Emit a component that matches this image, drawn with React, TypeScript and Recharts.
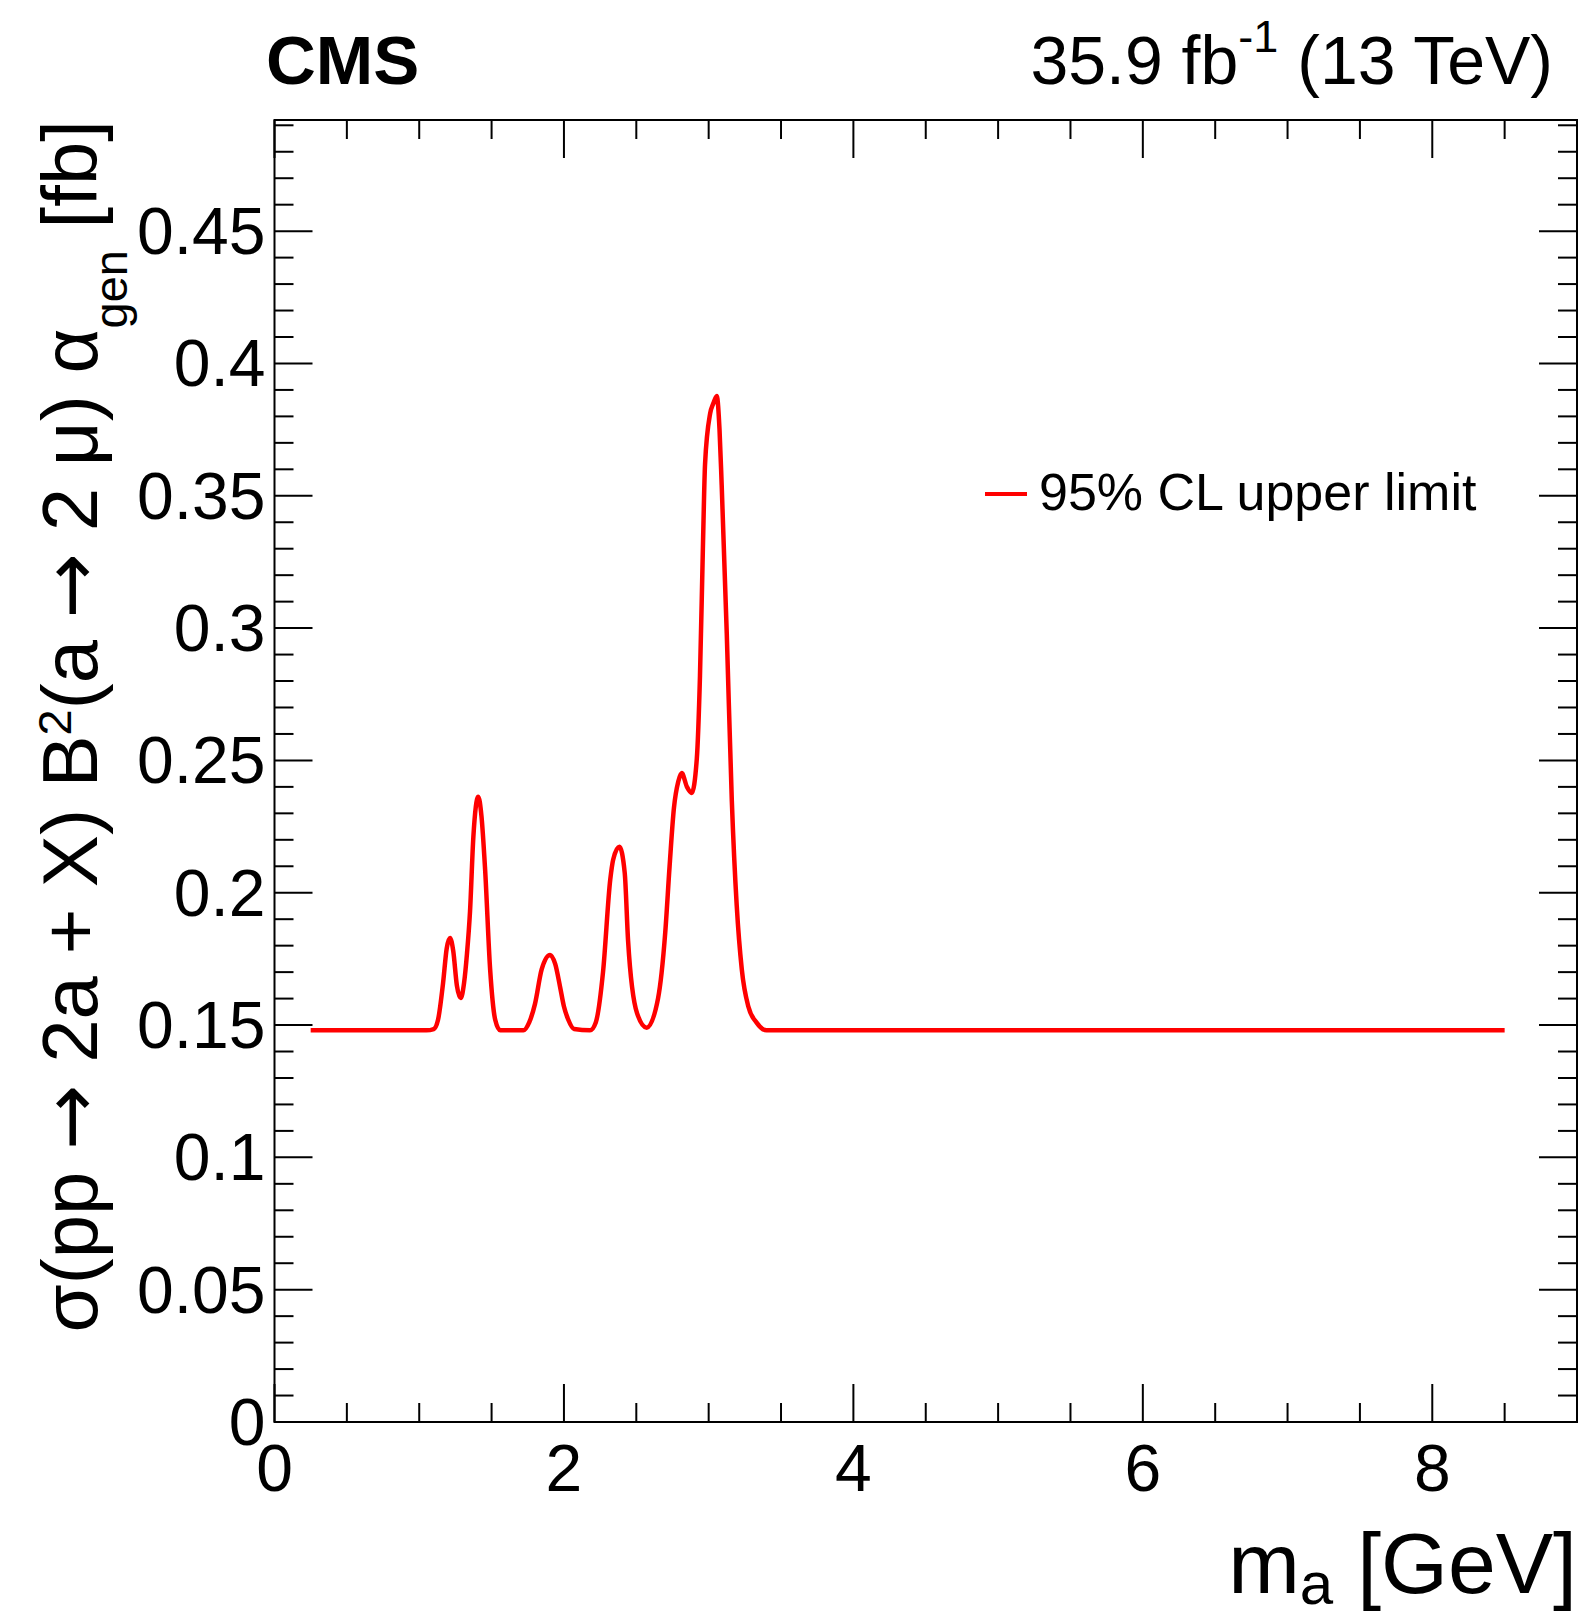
import React from 'react';
import { LineChart, Line, XAxis, YAxis, ReferenceArea, Legend, Customized } from 'recharts';

// ---- data ----
const massGeV = [
  0.25, 1.05, 1.10, 1.13, 1.165, 1.19, 1.213, 1.235, 1.26, 1.287, 1.31, 1.33, 1.351, 1.374, 1.408,
  1.43, 1.455, 1.49, 1.525, 1.56, 1.72, 1.76, 1.80, 1.846, 1.904, 1.94, 1.973, 2.00, 2.03, 2.07,
  2.18, 2.22, 2.27, 2.32, 2.34, 2.383, 2.42, 2.443, 2.505, 2.572, 2.65, 2.70, 2.73, 2.76, 2.79,
  2.814, 2.85, 2.883, 2.918, 2.94, 2.96, 2.975, 3.01, 3.033, 3.056, 3.075, 3.09, 3.125, 3.16,
  3.194, 3.229, 3.274, 3.33, 3.40, 8.50,
];
const upperLimitFb = [
  0.148, 0.148, 0.1485, 0.152, 0.166, 0.179, 0.1829, 0.178, 0.165, 0.1602, 0.166, 0.177, 0.193, 0.221, 0.2363,
  0.229, 0.209, 0.171, 0.152, 0.148, 0.148, 0.151, 0.158, 0.171, 0.1765, 0.173, 0.1645, 0.157, 0.152, 0.1485,
  0.148, 0.151, 0.170, 0.205, 0.2125, 0.2174, 0.2075, 0.182, 0.1545, 0.149, 0.160, 0.185, 0.21, 0.232, 0.242,
  0.2452, 0.240, 0.2377, 0.2506, 0.282, 0.330, 0.362, 0.381, 0.385, 0.3877, 0.375, 0.354, 0.298, 0.2347,
  0.195, 0.171, 0.157, 0.151, 0.148, 0.148,
];

const xTickValues = [0, 0.5, 1, 1.5, 2, 2.5, 3, 3.5, 4, 4.5, 5, 5.5, 6, 6.5, 7, 7.5, 8, 8.5, 9];
const xMajorTicks = [0, 2, 4, 6, 8];
const xTickLabels = ['0', '2', '4', '6', '8'];
const yTickValues = [
  0, 0.01, 0.02, 0.03, 0.04, 0.05, 0.06, 0.07, 0.08, 0.09,
  0.1, 0.11, 0.12, 0.13, 0.14, 0.15, 0.16, 0.17, 0.18, 0.19,
  0.2, 0.21, 0.22, 0.23, 0.24, 0.25, 0.26, 0.27, 0.28, 0.29,
  0.3, 0.31, 0.32, 0.33, 0.34, 0.35, 0.36, 0.37, 0.38, 0.39,
  0.4, 0.41, 0.42, 0.43, 0.44, 0.45, 0.46, 0.47, 0.48, 0.49,
];
const yMajorTicks = [0, 0.05, 0.1, 0.15, 0.2, 0.25, 0.3, 0.35, 0.4, 0.45];
const yTickLabels = ['0', '0.05', '0.1', '0.15', '0.2', '0.25', '0.3', '0.35', '0.4', '0.45'];
const xDomain = [0, 9];
const yDomain = [0, 0.492];
const seriesName = '95% CL upper limit';

const data = massGeV.map((m, i) => ({ m, limit: upperLimitFb[i] }));

// ---- layout ----
const W = 1584;
const H = 1618;
const MARGIN = { top: 120, right: 7, bottom: 136, left: 0 };
const Y_AXIS_W = 274.5;
const X_AXIS_H = 60;
const PLOT_L = MARGIN.left + Y_AXIS_W;
const PLOT_R = W - MARGIN.right;
const PLOT_T = MARGIN.top;
const PLOT_B = H - MARGIN.bottom - X_AXIS_H;
const FONT = '"Liberation Sans", Arial, Helvetica, sans-serif';
const ARROW_FONT = '"DejaVu Sans", sans-serif';
const TICK_FS = 66;
const MAJOR = 38;
const MINOR = 19;

const findIdx = (arr: number[], v: number) => arr.findIndex((t) => Math.abs(t - v) < 1e-9);

function XTick(props: any) {
  const { x, payload } = props;
  const idx = findIdx(xMajorTicks, payload.value);
  const len = idx >= 0 ? MAJOR : MINOR;
  return (
    <g>
      <line x1={x} x2={x} y1={PLOT_B} y2={PLOT_B - len} stroke="#000" strokeWidth={2} />
      <line x1={x} x2={x} y1={PLOT_T} y2={PLOT_T + len} stroke="#000" strokeWidth={2} />
      {idx >= 0 && (
        <text x={x} y={PLOT_B + 69} textAnchor="middle" fontFamily={FONT} fontSize={TICK_FS} fill="#000">
          {xTickLabels[idx]}
        </text>
      )}
    </g>
  );
}

function YTick(props: any) {
  const { y, payload } = props;
  const idx = findIdx(yMajorTicks, payload.value);
  const len = idx >= 0 ? MAJOR : MINOR;
  return (
    <g>
      <line x1={PLOT_L} x2={PLOT_L + len} y1={y} y2={y} stroke="#000" strokeWidth={2} />
      <line x1={PLOT_R} x2={PLOT_R - len} y1={y} y2={y} stroke="#000" strokeWidth={2} />
      {idx >= 0 && (
        <text x={PLOT_L - 9} y={y + 23} textAnchor="end" fontFamily={FONT} fontSize={TICK_FS} fill="#000">
          {yTickLabels[idx]}
        </text>
      )}
    </g>
  );
}

function Annotations() {
  return (
    <g fontFamily={FONT} fill="#000">
      <text x={266} y={84} fontSize={69} fontWeight="bold">CMS</text>
      <text x={1553} y={84} fontSize={68} textAnchor="end">
        35.9 fb<tspan dy={-32} fontSize={45}>-1</tspan>
        <tspan dy={32}> (13 TeV)</tspan>
      </text>
      <text x={PLOT_R} y={1593} fontSize={86} textAnchor="end">
        m<tspan dy={11} fontSize={60}>a</tspan>
        <tspan dy={-11}> [GeV]</tspan>
      </text>
      <text transform={`translate(97, ${PLOT_T}) rotate(-90)`} fontSize={78} textAnchor="end">
        σ(pp <tspan fontFamily={ARROW_FONT}>→</tspan> 2a + X) B<tspan dy={-26} fontSize={47}>2</tspan>
        <tspan dy={26}>(a <tspan fontFamily={ARROW_FONT}>→</tspan> 2 μ) α</tspan>
        <tspan dy={30} fontSize={47}>gen</tspan>
        <tspan dy={-30}> [fb]</tspan>
      </text>
    </g>
  );
}

function LegendContent() {
  return (
    <div style={{ display: 'flex', alignItems: 'center', fontFamily: FONT, fontSize: 52, lineHeight: '52px', color: '#000', whiteSpace: 'nowrap' }}>
      <div style={{ width: 42, height: 4, background: '#ff0000', marginRight: 12, marginTop: 4 }} />
      <span>{seriesName}</span>
    </div>
  );
}

export default function App() {
  return (
    <div style={{ position: 'absolute', left: 0, top: 0, width: W, height: H, background: '#fff' }}>
      <LineChart width={W} height={H} data={data} margin={MARGIN}>
        <XAxis
          type="number"
          dataKey="m"
          domain={xDomain}
          ticks={xTickValues}
          interval={0}
          tick={<XTick />}
          tickLine={false}
          axisLine={false}
          height={X_AXIS_H}
          allowDataOverflow
        />
        <YAxis
          type="number"
          domain={yDomain}
          ticks={yTickValues}
          interval={0}
          tick={<YTick />}
          tickLine={false}
          axisLine={false}
          width={Y_AXIS_W}
          allowDataOverflow
        />
        <ReferenceArea x1={xDomain[0]} x2={xDomain[1]} y1={yDomain[0]} y2={yDomain[1]} fill="none" stroke="#000" strokeWidth={2} ifOverflow="visible" />
        <Line
          type="monotone"
          dataKey="limit"
          name={seriesName}
          stroke="#ff0000"
          strokeWidth={4.5}
          dot={false}
          activeDot={false}
          isAnimationActive={false}
        />
        <Legend
          layout="vertical"
          align="center"
          verticalAlign="middle"
          content={<LegendContent />}
          wrapperStyle={{ position: 'absolute', left: 985, top: 466, width: 560 }}
        />
        <Customized component={<Annotations />} />
      </LineChart>
    </div>
  );
}
